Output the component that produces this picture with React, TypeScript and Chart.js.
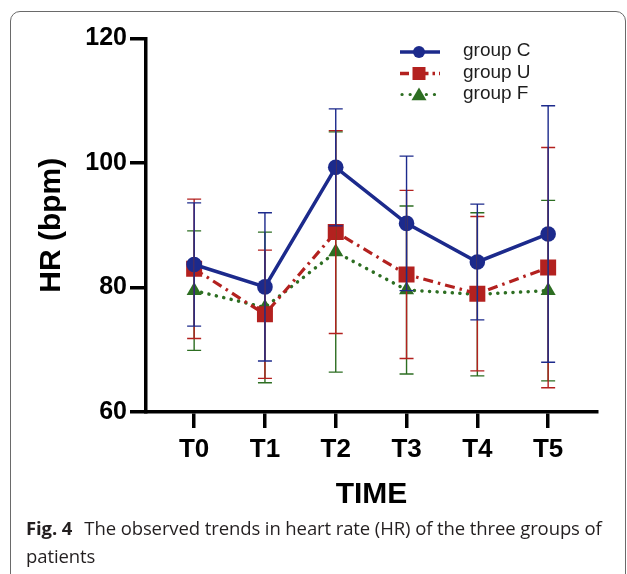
import React, { useEffect, useRef } from 'react';
import { Chart, registerables } from 'chart.js';

Chart.register(...registerables);

const categories = ['T0', 'T1', 'T2', 'T3', 'T4', 'T5'];
const seriesNames = ['group C', 'group U', 'group F'];

const groupCMean = [83.7, 80.1, 99.3, 90.3, 84.1, 88.6];
const groupCSd = [9.9, 11.9, 9.4, 10.8, 9.3, 20.6];
const groupUMean = [83.0, 75.7, 88.9, 82.1, 79.0, 83.2];
const groupUSd = [11.2, 10.3, 16.3, 13.5, 12.4, 19.3];
const groupFMean = [79.5, 76.8, 85.7, 79.6, 78.9, 79.5];
const groupFSd = [9.6, 12.1, 19.3, 13.5, 13.1, 14.5];

const yMin = 60;
const yMax = 120;
const yStep = 20;

const BLUE = '#1c2a8c';
const RED = '#b3211f';
const GREEN = '#2d6e22';
const FONT = "'Liberation Sans', Arial, Helvetica, sans-serif";

const means = [groupCMean, groupUMean, groupFMean];
const sds = [groupCSd, groupUSd, groupFSd];
const colors = [BLUE, RED, GREEN];

function drawMarker(ctx: CanvasRenderingContext2D, kind: string, x: number, y: number, r: number, color: string) {
  ctx.save();
  ctx.setLineDash([]);
  ctx.fillStyle = color;
  ctx.beginPath();
  if (kind === 'circle') {
    ctx.arc(x, y, r, 0, Math.PI * 2);
  } else if (kind === 'rect') {
    ctx.rect(x - r, y - r, 2 * r, 2 * r);
  } else {
    const w = r * 1.0;
    ctx.moveTo(x, y - r * 0.95);
    ctx.lineTo(x + w, y + r * 0.75);
    ctx.lineTo(x - w, y + r * 0.75);
    ctx.closePath();
  }
  ctx.fill();
  ctx.restore();
}

const errorBarPlugin = {
  id: 'errorBars',
  afterDatasetsDraw(chart: any) {
    const { ctx } = chart;
    const x = chart.scales.x;
    const y = chart.scales.y;
    ctx.save();
    ctx.setLineDash([]);
    ctx.lineWidth = 1.4;
    [2, 1, 0].forEach((di) => {
      ctx.strokeStyle = colors[di];
      means[di].forEach((m, i) => {
        const px = x.getPixelForValue(i);
        const top = y.getPixelForValue(m + sds[di][i]);
        const bot = y.getPixelForValue(m - sds[di][i]);
        ctx.beginPath();
        ctx.moveTo(px, top);
        ctx.lineTo(px, bot);
        ctx.moveTo(px - 7, top);
        ctx.lineTo(px + 7, top);
        ctx.moveTo(px - 7, bot);
        ctx.lineTo(px + 7, bot);
        ctx.stroke();
      });
    });
    ctx.restore();
  },
};

const legendPlugin = {
  id: 'customLegend',
  afterDraw(chart: any) {
    const { ctx } = chart;
    const x0 = 400;
    const x1 = 440;
    const mx = 419;
    const rows = [52, 73.5, 94.5];
    const dashes = [[], [9, 4, 2.5, 4], [0.1, 8]];
    const caps: CanvasLineCap[] = ['butt', 'butt', 'round'];
    const kinds = ['circle', 'rect', 'triangle'];
    const sizes = [6, 6.5, 7.5];
    ctx.save();
    rows.forEach((ry, i) => {
      ctx.strokeStyle = colors[i];
      ctx.lineWidth = i === 2 ? 3.2 : 3.5;
      ctx.lineCap = caps[i];
      ctx.setLineDash(dashes[i]);
      ctx.beginPath();
      ctx.moveTo(x0 + (i === 2 ? 2 : 0), ry);
      ctx.lineTo(x1, ry);
      ctx.stroke();
      drawMarker(ctx, kinds[i], mx, ry, sizes[i], colors[i]);
      ctx.setLineDash([]);
      ctx.fillStyle = '#1e1e1e';
      ctx.font = `19px ${FONT}`;
      ctx.textBaseline = 'middle';
      ctx.textAlign = 'left';
      ctx.fillText(seriesNames[i], 463, ry - 1);
    });
    ctx.restore();
  },
};

export default function App() {
  const ref = useRef<HTMLCanvasElement | null>(null);

  useEffect(() => {
    if (!ref.current) return;
    const mk = (arr: number[]) => arr.map((v, i) => ({ x: i, y: v }));
    const chart = new Chart(ref.current, {
      type: 'line',
      data: {
        datasets: [
          {
            label: seriesNames[0],
            data: mk(groupCMean),
            borderColor: BLUE,
            backgroundColor: BLUE,
            borderWidth: 3.5,
            pointStyle: 'circle',
            pointRadius: 7.8,
            pointBorderWidth: 0,
            tension: 0,
          },
          {
            label: seriesNames[1],
            data: mk(groupUMean),
            borderColor: RED,
            backgroundColor: RED,
            borderWidth: 3.2,
            borderDash: [10, 5, 2.5, 5],
            pointStyle: 'rect',
            pointRadius: 11.3,
            pointBorderWidth: 0,
            tension: 0,
          },
          {
            label: seriesNames[2],
            data: mk(groupFMean),
            borderColor: GREEN,
            backgroundColor: GREEN,
            borderWidth: 3.5,
            borderDash: [0.1, 7.5],
            borderCapStyle: 'round',
            pointStyle: 'triangle',
            pointRadius: 8.7,
            pointBorderWidth: 0,
            tension: 0,
          },
        ],
      },
      options: {
        responsive: false,
        animation: false,
        events: [],
        layout: { padding: { left: 0, right: 30, top: 38.5, bottom: 0 } },
        plugins: {
          legend: { display: false },
          tooltip: { enabled: false },
        },
        elements: { line: { fill: false } },
        scales: {
          x: {
            type: 'linear',
            min: -0.68,
            max: 5.69,
            afterFit: (s: any) => {
              s.height = 162;
            },
            border: { color: '#000', width: 3.5 },
            grid: { drawOnChartArea: false, drawTicks: true, tickLength: 16, color: '#000', lineWidth: 3.5 },
            ticks: {
              stepSize: 1,
              includeBounds: false,
              autoSkip: false,
              maxRotation: 0,
              padding: 6,
              color: '#000',
              font: { family: FONT, size: 26, weight: 'bold' },
              callback: (v: any) => (Number.isInteger(v) ? categories[v] ?? '' : ''),
            },
            title: {
              display: true,
              text: 'TIME',
              color: '#000',
              font: { family: FONT, size: 30, weight: 'bold' },
              padding: { top: 0, bottom: 61 },
            },
          },
          y: {
            min: yMin,
            max: yMax,
            afterFit: (s: any) => {
              s.width = 146;
            },
            border: { color: '#000', width: 3.5 },
            grid: { drawOnChartArea: false, drawTicks: true, tickLength: 16, color: '#000', lineWidth: 3.5 },
            ticks: {
              stepSize: yStep,
              padding: 3,
              color: '#000',
              font: { family: FONT, size: 25, weight: 'bold' },
            },
            title: {
              display: true,
              text: 'HR (bpm)',
              color: '#000',
              font: { family: FONT, size: 30, weight: 'bold' },
              padding: { top: 33.5, bottom: 0 },
            },
          },
        },
      },
      plugins: [errorBarPlugin, legendPlugin],
    } as any);
    return () => chart.destroy();
  }, []);

  return (
    <div style={{ position: 'absolute', left: 0, top: 0, width: 627, height: 574, overflow: 'hidden', background: '#fff' }}>
      <div
        style={{
          position: 'absolute',
          left: 10,
          top: 11,
          width: 616,
          height: 600,
          boxSizing: 'border-box',
          border: '1.3px solid #6a6a6a',
          borderRadius: 10,
        }}
      />
      <canvas ref={ref} width={627} height={574} style={{ position: 'absolute', left: 0, top: 0 }} />
      <div
        style={{
          position: 'absolute',
          left: 26,
          top: 514,
          width: 596,
          fontFamily: "'Open Sans', 'Noto Sans', sans-serif",
          fontSize: 18.5,
          lineHeight: '28px',
          color: '#231f20',
          letterSpacing: '-0.1px',
        }}
      >
        <b style={{ marginRight: 12 }}>Fig. 4</b>The observed trends in heart rate (HR) of the three groups of patients
      </div>
    </div>
  );
}
